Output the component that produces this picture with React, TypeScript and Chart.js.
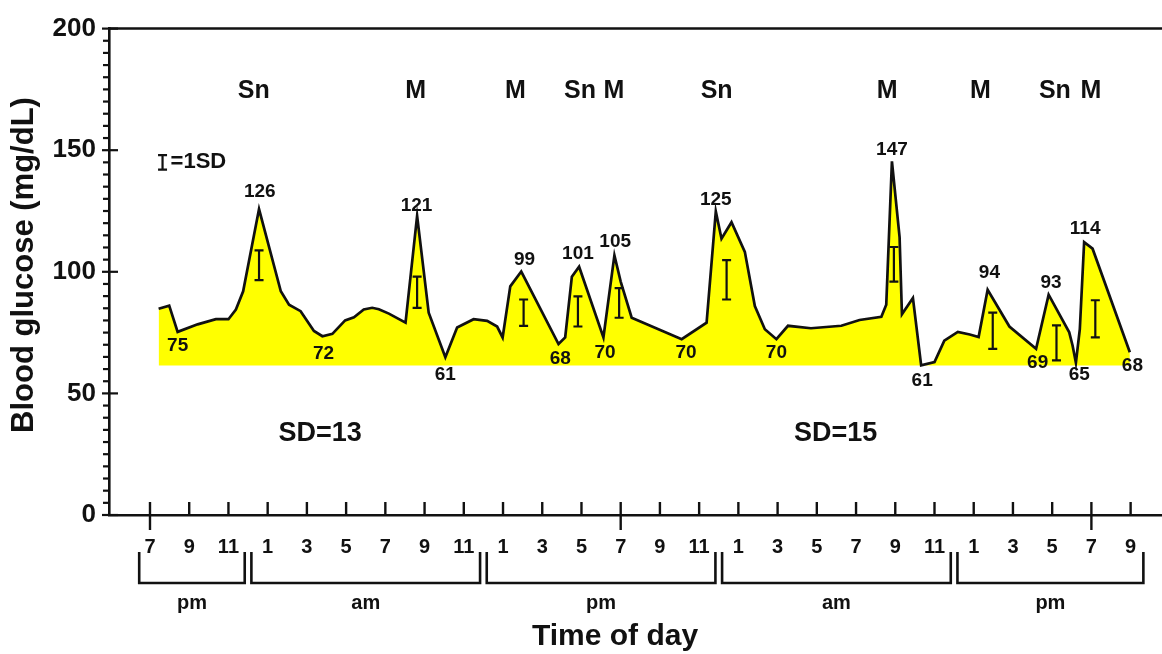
import React, { useEffect, useRef } from 'react';
import { Chart, registerables } from 'chart.js';

Chart.register(...registerables);

// Hours elapsed since 7 pm on the first evening
const times = [
  0.44, 0.98, 1.41, 2.43, 3.36, 4.0, 4.38, 4.75, 5.56, 6.67, 7.09, 7.68, 8.36, 8.79, 9.3, 9.95,
  10.4, 10.9, 11.33, 11.67, 12.18, 13.03, 13.62, 14.21, 15.06, 15.66, 16.5, 17.19, 17.7, 17.98,
  18.37, 18.93, 20.83, 21.17, 21.51, 21.88, 23.12, 23.68, 24.0, 24.56, 27.11, 28.38, 28.85, 29.14,
  29.65, 30.33, 30.84, 31.35, 31.94, 32.53, 33.7, 35.25, 36.18, 37.29, 37.54, 37.83, 38.22, 38.34,
  38.9, 39.32, 40.0, 40.5, 41.19, 41.8, 42.25, 42.71, 43.82, 45.18, 45.82, 46.87, 47.04, 47.21,
  47.41, 47.63, 48.06, 49.96,
];
const glucose = [
  84.8, 86.1, 75.3, 78.4, 80.5, 80.5, 84.5, 92, 125.8, 92, 86.5, 83.8, 75.7, 73.5, 74.5, 80,
  81.3, 84.5, 85.2, 84.6, 82.8, 79.1, 123, 83.2, 64.9, 77.1, 80.5, 79.8, 77.5, 73,
  94, 100.1, 70.3, 73, 98, 102.1, 73, 106.8, 96, 81.1, 72.3, 79.1, 124.8, 113.6,
  120.4, 108.2, 85.9, 76.4, 72.3, 77.8, 76.8, 77.8, 80.2, 81.5, 86.5, 145.4, 114.3, 82.5,
  89.2, 61.5, 62.9, 71.7, 75.3, 74.2, 73.2, 92.6, 77.5, 68.3, 90.6, 75.1, 69.7, 62.6,
  76.4, 112.2, 109.5, 66.9,
];
const fillBase = 61.5;

const xTickHours = [0, 2, 4, 6, 8, 10, 12, 14, 16, 18, 20, 22, 24, 26, 28, 30, 32, 34, 36, 38, 40, 42, 44, 46, 48, 50];
const xTickLabels = ['7', '9', '11', '1', '3', '5', '7', '9', '11', '1', '3', '5', '7', '9', '11', '1', '3', '5', '7', '9', '11', '1', '3', '5', '7', '9'];
const yTickValues = [0, 50, 100, 150, 200];

const periodLabels = ['pm', 'am', 'pm', 'am', 'pm'];
const periodBounds = [-0.55, 5, 17, 29, 41, 50.65];

const mealLabels = ['Sn', 'M', 'M', 'Sn', 'M', 'Sn', 'M', 'M', 'Sn', 'M'];
const mealHours = [5.29, 13.54, 18.63, 21.93, 23.66, 28.89, 37.59, 42.34, 46.14, 47.97];
const mealLevel = 174.4;

const peakTexts = ['126', '75', '72', '121', '61', '99', '68', '101', '70', '105', '70', '125', '70', '147', '61', '94', '69', '93', '65', '114', '68'];
const peakHours = [5.6, 1.41, 8.85, 13.59, 15.06, 19.1, 20.92, 21.82, 23.2, 23.72, 27.33, 28.85, 31.94, 37.83, 39.37, 42.8, 45.26, 45.94, 47.38, 47.68, 50.09];
const peakLevels = [133.1, 69.7, 66.2, 127.1, 57.8, 105.1, 64.2, 107.5, 66.9, 112.3, 66.9, 129.8, 66.9, 150.1, 55.2, 99.7, 62.6, 95.3, 57.5, 117.6, 61.5];

const sdBarHours = [5.56, 13.62, 19.05, 21.82, 23.92, 29.4, 37.93, 42.97, 46.22, 48.2];
const sdBarLow = [96.6, 85.2, 77.8, 77.5, 81.1, 88.6, 96, 68.3, 63.6, 73];
const sdBarHigh = [108.8, 98, 88.6, 89.9, 93.3, 104.8, 110.2, 83.2, 78, 88.3];

const sdTexts = ['SD=13', 'SD=15'];
const sdTextHours = [8.67, 34.96];
const sdTextLevel = 33.4;

const legendHour = 0.64;
const legendLow = 142;
const legendHigh = 148;

const FONT = "'Liberation Sans', Arial, Helvetica, sans-serif";
const INK = '#111111';

const overlay = {
  id: 'overlay',
  afterDatasetsDraw(chart: any) {
    const ctx = chart.ctx as CanvasRenderingContext2D;
    const xs = chart.scales.x;
    const ys = chart.scales.y;
    const area = chart.chartArea;
    ctx.save();
    ctx.strokeStyle = INK;
    ctx.fillStyle = INK;
    ctx.lineCap = 'butt';

    // top frame line
    ctx.lineWidth = 2.5;
    const yTop = ys.getPixelForValue(200);
    ctx.beginPath();
    ctx.moveTo(area.left, yTop);
    ctx.lineTo(area.right, yTop);
    ctx.stroke();

    // y tick marks
    for (let v = 0; v <= 200; v += 5) {
      const y = ys.getPixelForValue(v);
      const major = v % 50 === 0;
      ctx.lineWidth = 2.2;
      ctx.beginPath();
      ctx.moveTo(area.left - (major ? 7 : 6), y);
      ctx.lineTo(area.left + (major ? 9 : 0), y);
      ctx.stroke();
    }

    // x tick marks
    const yAxis = ys.getPixelForValue(0);
    xTickHours.forEach((h) => {
      const x = xs.getPixelForValue(h);
      const major = h % 24 === 0;
      ctx.lineWidth = 2.4;
      ctx.beginPath();
      ctx.moveTo(x, yAxis - 13);
      ctx.lineTo(x, yAxis + (major ? 15 : 0));
      ctx.stroke();
    });

    // brackets for am / pm
    ctx.lineWidth = 2.6;
    ctx.font = `bold 20px ${FONT}`;
    ctx.textAlign = 'center';
    ctx.textBaseline = 'middle';
    const n = periodLabels.length;
    for (let i = 0; i < n; i++) {
      const a = periodBounds[i] + (i > 0 ? 0.17 : 0);
      const b = periodBounds[i + 1] - (i < n - 1 ? 0.17 : 0);
      const x1 = xs.getPixelForValue(a);
      const x2 = xs.getPixelForValue(b);
      ctx.beginPath();
      ctx.moveTo(x1, 552);
      ctx.lineTo(x1, 583);
      ctx.lineTo(x2, 583);
      ctx.lineTo(x2, 552);
      ctx.stroke();
      ctx.fillText(periodLabels[i], (x1 + x2) / 2, 603);
    }

    // SD bars
    ctx.lineWidth = 2.2;
    const drawBar = (h: number, lo: number, hi: number) => {
      const x = xs.getPixelForValue(h);
      const y1 = ys.getPixelForValue(lo);
      const y2 = ys.getPixelForValue(hi);
      ctx.beginPath();
      ctx.moveTo(x, y1);
      ctx.lineTo(x, y2);
      ctx.moveTo(x - 4.5, y1);
      ctx.lineTo(x + 4.5, y1);
      ctx.moveTo(x - 4.5, y2);
      ctx.lineTo(x + 4.5, y2);
      ctx.stroke();
    };
    sdBarHours.forEach((h, i) => drawBar(h, sdBarLow[i], sdBarHigh[i]));
    drawBar(legendHour, legendLow, legendHigh);
    ctx.font = `bold 22px ${FONT}`;
    ctx.textAlign = 'left';
    ctx.fillText('=1SD', xs.getPixelForValue(legendHour) + 8, ys.getPixelForValue((legendLow + legendHigh) / 2));

    // meal / snack labels
    ctx.textAlign = 'center';
    ctx.font = `bold 25px ${FONT}`;
    mealLabels.forEach((t, i) => {
      ctx.fillText(t, xs.getPixelForValue(mealHours[i]), ys.getPixelForValue(mealLevel));
    });

    // peak / trough values
    ctx.font = `bold 19px ${FONT}`;
    peakTexts.forEach((t, i) => {
      ctx.fillText(t, xs.getPixelForValue(peakHours[i]), ys.getPixelForValue(peakLevels[i]));
    });

    // SD texts
    ctx.font = `bold 27px ${FONT}`;
    sdTexts.forEach((t, i) => {
      ctx.fillText(t, xs.getPixelForValue(sdTextHours[i]), ys.getPixelForValue(sdTextLevel));
    });

    // axis titles
    ctx.font = `bold 30px ${FONT}`;
    ctx.fillText('Time of day', 615, 637);
    ctx.save();
    ctx.translate(24, 265);
    ctx.rotate(-Math.PI / 2);
    ctx.font = `bold 31px ${FONT}`;
    ctx.fillText('Blood glucose (mg/dL)', 0, 0);
    ctx.restore();

    ctx.restore();
  },
};

export default function App() {
  const ref = useRef<HTMLCanvasElement>(null);
  useEffect(() => {
    if (!ref.current) return;
    const chart = new Chart(ref.current, {
      type: 'line',
      data: {
        datasets: [
          {
            data: times.map((t, i) => ({ x: t, y: glucose[i] })),
            borderColor: INK,
            borderWidth: 2.7,
            backgroundColor: '#FFFF00',
            fill: { value: fillBase },
            pointRadius: 0,
            tension: 0,
          },
        ],
      },
      options: {
        responsive: false,
        animation: false,
        layout: { padding: { top: 22, right: 0, left: 0, bottom: 0 } },
        plugins: { legend: { display: false }, tooltip: { enabled: false } },
        scales: {
          x: {
            type: 'linear',
            min: -2.09,
            max: 51.6,
            afterFit: (s: any) => {
              s.height = 139;
            },
            afterBuildTicks: (s: any) => {
              s.ticks = xTickHours.map((v) => ({ value: v }));
            },
            ticks: {
              callback: (v: any) => xTickLabels[xTickHours.indexOf(Number(v))] ?? '',
              font: { family: FONT, size: 20, weight: 'bold' },
              color: INK,
              padding: 20,
              maxRotation: 0,
              autoSkip: false,
            },
            grid: { display: false, drawTicks: false },
            border: { display: true, width: 2.6, color: INK },
          },
          y: {
            min: 0,
            max: 200,
            afterFit: (s: any) => {
              s.width = 109;
            },
            afterBuildTicks: (s: any) => {
              s.ticks = yTickValues.map((v) => ({ value: v }));
            },
            ticks: {
              font: { family: FONT, size: 26, weight: 'bold' },
              color: INK,
              padding: 13,
            },
            grid: { display: false, drawTicks: false },
            border: { display: true, width: 2.6, color: INK },
          },
        },
      },
      plugins: [overlay],
    });
    return () => chart.destroy();
  }, []);
  return (
    <div style={{ position: 'fixed', left: 0, top: 0, width: 1162, height: 654, background: '#fff' }}>
      <canvas ref={ref} width={1162} height={654} style={{ display: 'block', width: 1162, height: 654 }} />
    </div>
  );
}
